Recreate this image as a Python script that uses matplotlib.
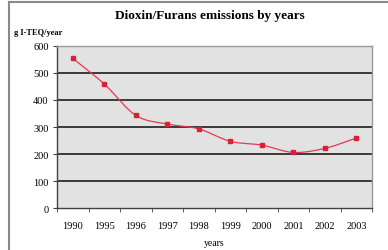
import numpy as np
import matplotlib
matplotlib.use("Agg")
import matplotlib.pyplot as plt
from matplotlib.lines import Line2D

years = ["1990", "1995", "1996", "1997", "1998", "1999", "2000", "2001", "2002", "2003"]
emissions = [554, 459, 343, 311, 293, 247, 233, 206, 221, 259]
yticks = [0, 100, 200, 300, 400, 500, 600]

plt.rcParams["font.family"] = ["Liberation Serif", "DejaVu Serif"]


def smooth(x, y, n=20):
    # catmull-rom style smoothing like the excel "smoothed line" option
    x = np.asarray(x, float)
    y = np.asarray(y, float)
    px = np.concatenate([[2 * x[0] - x[1]], x, [2 * x[-1] - x[-2]]])
    py = np.concatenate([[2 * y[0] - y[1]], y, [2 * y[-1] - y[-2]]])
    xs, ys = [], []
    t = np.linspace(0, 1, n, endpoint=False)
    for i in range(1, len(px) - 2):
        for arr, out in ((px, xs), (py, ys)):
            p0, p1, p2, p3 = arr[i - 1], arr[i], arr[i + 1], arr[i + 2]
            out.extend(0.5 * (2 * p1 + (-p0 + p2) * t + (2 * p0 - 5 * p1 + 4 * p2 - p3) * t ** 2
                              + (-p0 + 3 * p1 - 3 * p2 + p3) * t ** 3))
    xs.append(x[-1])
    ys.append(y[-1])
    return xs, ys


fig = plt.figure(figsize=(3.88, 2.51), dpi=100)
ax = fig.add_axes([0.147, 0.167, 0.812, 0.646])
ax.set_facecolor("#e2e2e2")

xpos = np.arange(len(years))
for v in yticks[1:-1]:
    ax.axhline(v, color="#3a3a3a", lw=1.4, zorder=1)

sx, sy = smooth(xpos, emissions)
ax.plot(sx, sy, color="#e23a50", lw=0.9, zorder=3)
ax.plot(xpos, emissions, ls="none", marker="s", ms=2.2, color="#d8203a", zorder=4)

ax.set_xlim(-0.5, len(years) - 0.5)
ax.set_ylim(0, 600)
ax.set_yticks(yticks)
ax.set_yticklabels([str(v) for v in yticks], fontsize=7.5)
ax.set_xticks(xpos)
ax.set_xticklabels(years, fontsize=7.5)
ax.set_xticks(np.arange(-0.5, len(years)), minor=True)
ax.tick_params(axis="x", which="major", length=0, pad=9)
ax.tick_params(axis="x", which="minor", length=3, color="#404040", direction="out")
ax.tick_params(axis="y", length=3, color="#404040", direction="out", pad=3)

for s in ["top", "right"]:
    ax.spines[s].set_color("#9a9a9a")
    ax.spines[s].set_linewidth(1.0)
for s in ["left", "bottom"]:
    ax.spines[s].set_color("#404040")
    ax.spines[s].set_linewidth(1.0)

ax.set_xlabel("years", fontsize=7, labelpad=6)
fig.text(0.541, 0.936, "Dioxin/Furans emissions by years", ha="center", va="center",
         fontsize=9.5, fontweight="bold")
fig.text(0.036, 0.868, "g I-TEQ/year", ha="left", va="center", fontsize=6, fontweight="bold")

# outer frame (left and top only)
fig.add_artist(Line2D([0.023, 0.023], [0.0, 0.988], color="#8a8a8a", lw=1.5, transform=fig.transFigure))
fig.add_artist(Line2D([0.023, 1.0], [0.988, 0.988], color="#8a8a8a", lw=1.5, transform=fig.transFigure))

fig.savefig("out.png", dpi=100)
